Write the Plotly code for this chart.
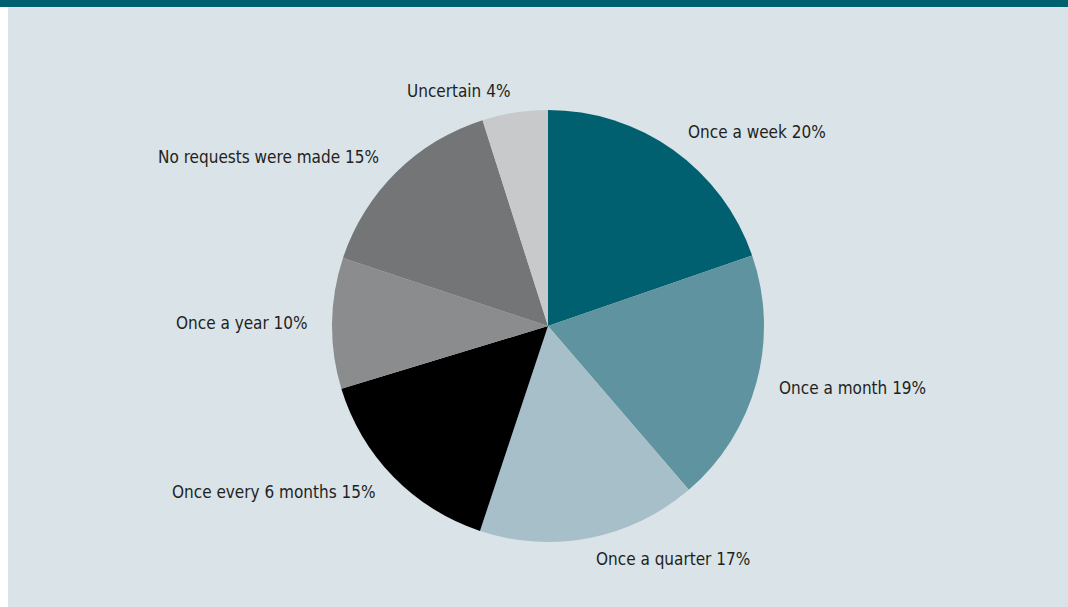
import math
import plotly.graph_objects as go

# Data
categories = ["Once a week", "Once a month", "Once a quarter", "Once every 6 months",
              "Once a year", "No requests were made", "Uncertain"]
slice_values = [19.7, 19.0, 16.4, 15.2, 9.8, 15.0, 4.9]   # measured slice sizes
label_pct = [20, 19, 17, 15, 10, 15, 4]                    # percentages printed on the chart
colors = ["#00606f", "#5e939f", "#a7bfc8", "#000000", "#8b8c8e", "#747577", "#c8c9ca"]

W, H = 1068, 607
CX, CY, R = 548, 326, 216  # pixel centre / radius of the pie
FONT = "Liberation Sans Narrow, DejaVu Sans Condensed, Arial Narrow, sans-serif"

fig = go.Figure(go.Pie(
    labels=categories,
    values=slice_values,
    sort=False,
    direction="clockwise",
    rotation=0,
    marker=dict(colors=colors, line=dict(width=0)),
    textinfo="none",
    hoverinfo="label+percent",
    showlegend=False,
    domain=dict(x=[(CX - R) / W, (CX + R) / W],
                y=[(H - CY - R) / H, (H - CY + R) / H]),
))

# Labels positioned from the slice mid-angles
total = sum(slice_values)
cum = 0.0
annotations = []
for cat, v, p in zip(categories, slice_values, label_pct):
    mid = (cum + v / 2) / total * 2 * math.pi
    cum += v
    s, c = math.sin(mid), math.cos(mid)
    rr = R * 1.1
    px = CX + rr * s
    py = CY - rr * c
    if s > 0.05:
        xa = "left"
    elif s < -0.05:
        xa = "right"
    else:
        xa = "center"
    annotations.append(dict(
        x=px / W, y=1 - py / H, xref="paper", yref="paper",
        text=f"{cat} {p}%", showarrow=False, xanchor=xa, yanchor="middle",
        font=dict(family=FONT, size=17, color="#231f20"),
    ))

shapes = [
    dict(type="rect", xref="paper", yref="paper", x0=8 / W, x1=1, y0=0, y1=1,
         fillcolor="#dae3e8", line=dict(width=0), layer="below"),
    dict(type="rect", xref="paper", yref="paper", x0=0, x1=1, y0=1 - 7 / H, y1=1,
         fillcolor="#00606f", line=dict(width=0), layer="below"),
]

fig.update_layout(
    width=W, height=H,
    margin=dict(l=0, r=0, t=0, b=0),
    paper_bgcolor="#ffffff",
    plot_bgcolor="#ffffff",
    annotations=annotations,
    shapes=shapes,
)

fig.write_html(
    "out.html",
    config={"displayModeBar": False},
    post_script="document.body.style.margin='0';document.body.style.overflow='hidden';",
)
